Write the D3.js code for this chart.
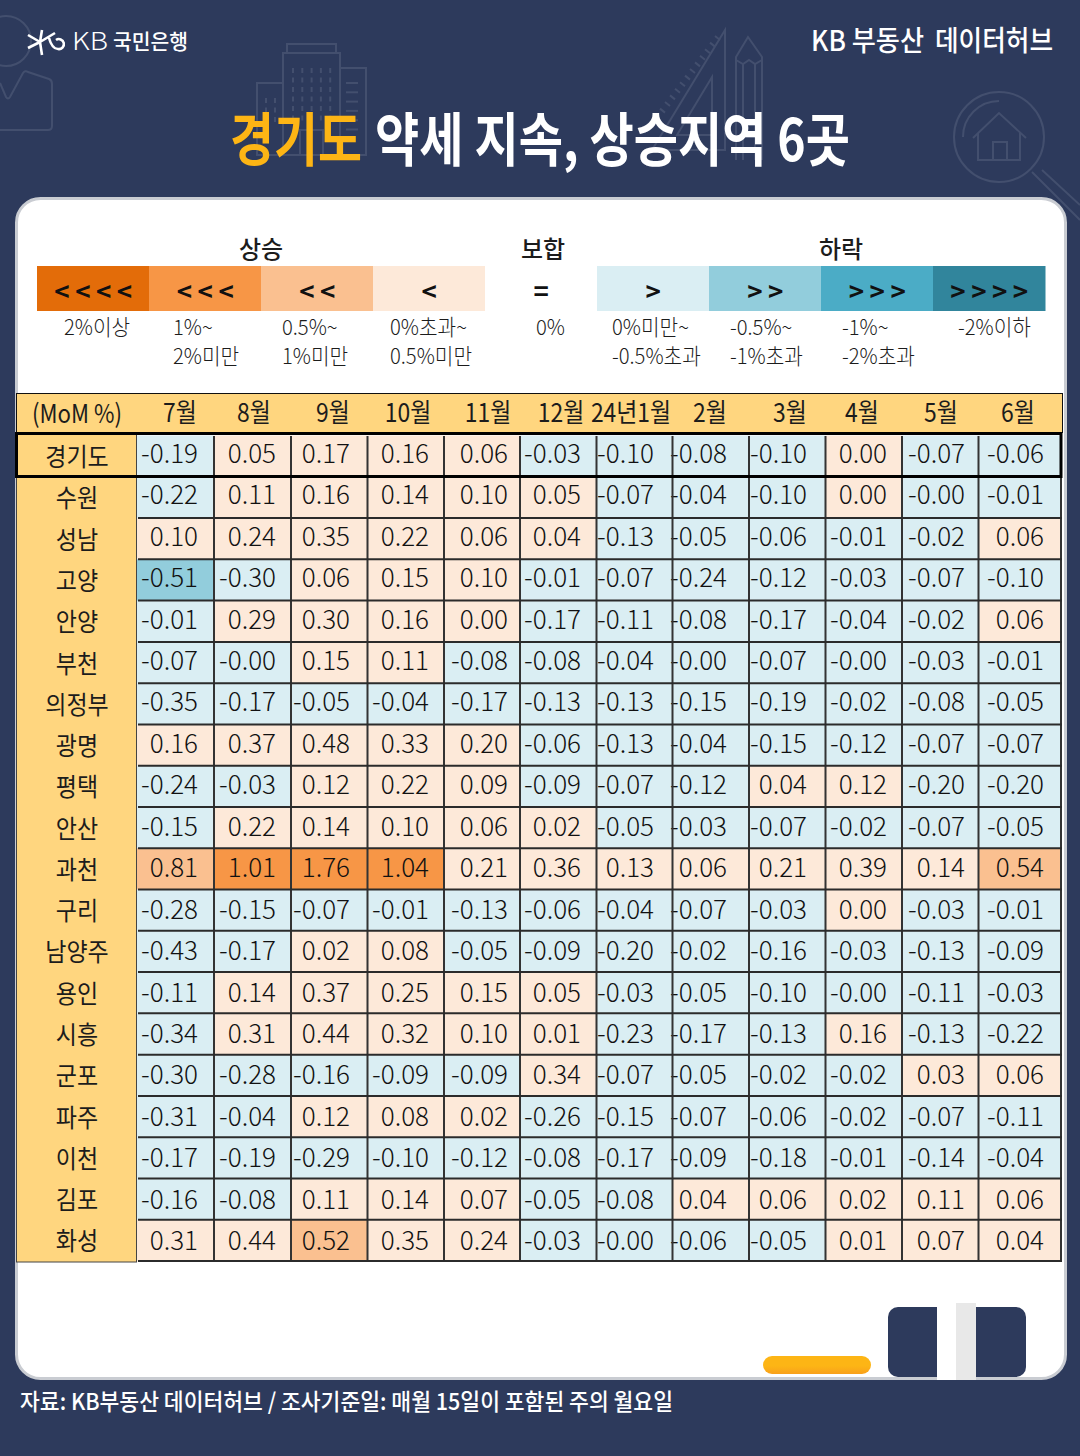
<!DOCTYPE html>
<html>
<head>
<meta charset="UTF-8">
<title>경기도 약세 지속, 상승지역 6곳</title>
<script src="https://d3js.org/d3.v7.min.js"></script>
<style>
  body { margin: 0; background: #2d3a5c; }
  svg { display: block; }
  text { font-family: "Noto Sans CJK KR", "Noto Sans", sans-serif; }
</style>
</head>
<body>
<script>
// data, kept as strings because "-0.00" and "0.00" are coloured differently
var months = ["7월", "8월", "9월", "10월", "11월", "12월", "24년1월", "2월", "3월", "4월", "5월", "6월"];
var regions = ["경기도", "수원", "성남", "고양", "안양", "부천", "의정부", "광명", "평택", "안산", "과천", "구리", "남양주", "용인", "시흥", "군포", "파주", "이천", "김포", "화성"];

var gyeonggi = ["-0.19", "0.05", "0.17", "0.16", "0.06", "-0.03", "-0.10", "-0.08", "-0.10", "0.00", "-0.07", "-0.06"];
var suwon = ["-0.22", "0.11", "0.16", "0.14", "0.10", "0.05", "-0.07", "-0.04", "-0.10", "0.00", "-0.00", "-0.01"];
var seongnam = ["0.10", "0.24", "0.35", "0.22", "0.06", "0.04", "-0.13", "-0.05", "-0.06", "-0.01", "-0.02", "0.06"];
var goyang = ["-0.51", "-0.30", "0.06", "0.15", "0.10", "-0.01", "-0.07", "-0.24", "-0.12", "-0.03", "-0.07", "-0.10"];
var anyang = ["-0.01", "0.29", "0.30", "0.16", "0.00", "-0.17", "-0.11", "-0.08", "-0.17", "-0.04", "-0.02", "0.06"];
var bucheon = ["-0.07", "-0.00", "0.15", "0.11", "-0.08", "-0.08", "-0.04", "-0.00", "-0.07", "-0.00", "-0.03", "-0.01"];
var uijeongbu = ["-0.35", "-0.17", "-0.05", "-0.04", "-0.17", "-0.13", "-0.13", "-0.15", "-0.19", "-0.02", "-0.08", "-0.05"];
var gwangmyeong = ["0.16", "0.37", "0.48", "0.33", "0.20", "-0.06", "-0.13", "-0.04", "-0.15", "-0.12", "-0.07", "-0.07"];
var pyeongtaek = ["-0.24", "-0.03", "0.12", "0.22", "0.09", "-0.09", "-0.07", "-0.12", "0.04", "0.12", "-0.20", "-0.20"];
var ansan = ["-0.15", "0.22", "0.14", "0.10", "0.06", "0.02", "-0.05", "-0.03", "-0.07", "-0.02", "-0.07", "-0.05"];
var gwacheon = ["0.81", "1.01", "1.76", "1.04", "0.21", "0.36", "0.13", "0.06", "0.21", "0.39", "0.14", "0.54"];
var guri = ["-0.28", "-0.15", "-0.07", "-0.01", "-0.13", "-0.06", "-0.04", "-0.07", "-0.03", "0.00", "-0.03", "-0.01"];
var namyangju = ["-0.43", "-0.17", "0.02", "0.08", "-0.05", "-0.09", "-0.20", "-0.02", "-0.16", "-0.03", "-0.13", "-0.09"];
var yongin = ["-0.11", "0.14", "0.37", "0.25", "0.15", "0.05", "-0.03", "-0.05", "-0.10", "-0.00", "-0.11", "-0.03"];
var siheung = ["-0.34", "0.31", "0.44", "0.32", "0.10", "0.01", "-0.23", "-0.17", "-0.13", "0.16", "-0.13", "-0.22"];
var gunpo = ["-0.30", "-0.28", "-0.16", "-0.09", "-0.09", "0.34", "-0.07", "-0.05", "-0.02", "-0.02", "0.03", "0.06"];
var paju = ["-0.31", "-0.04", "0.12", "0.08", "0.02", "-0.26", "-0.15", "-0.07", "-0.06", "-0.02", "-0.07", "-0.11"];
var icheon = ["-0.17", "-0.19", "-0.29", "-0.10", "-0.12", "-0.08", "-0.17", "-0.09", "-0.18", "-0.01", "-0.14", "-0.04"];
var gimpo = ["-0.16", "-0.08", "0.11", "0.14", "0.07", "-0.05", "-0.08", "0.04", "0.06", "0.02", "0.11", "0.06"];
var hwaseong = ["0.31", "0.44", "0.52", "0.35", "0.24", "-0.03", "-0.00", "-0.06", "-0.05", "0.01", "0.07", "0.04"];
var rows = [gyeonggi, suwon, seongnam, goyang, anyang, bucheon, uijeongbu, gwangmyeong, pyeongtaek, ansan, gwacheon, guri, namyangju, yongin, siheung, gunpo, paju, icheon, gimpo, hwaseong];

// legend
var legendSymbols = ["<<<<", "<<<", "<<", "<", "=", ">", ">>", ">>>", ">>>>"];
var legendColors = ["#e36c09", "#f79646", "#fac090", "#fde9d9", "#ffffff", "#daeef3", "#92cddc", "#4bacc6", "#31859c"];
var legendLine1 = ["2%이상", "1%~", "0.5%~", "0%초과~", "0%", "0%미만~", "-0.5%~", "-1%~", "-2%이하"];
var legendLine2 = ["", "2%미만", "1%미만", "0.5%미만", "", "-0.5%초과", "-1%초과", "-2%초과", ""];
var legendGroups = ["상승", "보합", "하락"];
var rateBreaks = [-2, -1, -0.5, 0, 0.5, 1, 2];
var rateColors = ["#31859c", "#4bacc6", "#92cddc", "#daeef3", "#fde9d9", "#fac090", "#f79646", "#e36c09"];

// layout of the table, the columns in the picture are not quite even
var colEdges = [137, 214, 291, 367.5, 444, 520, 596.5, 672.5, 749, 825.5, 902, 978.5];
var colEnds = [214, 291, 367.5, 444, 520, 596.5, 672.5, 749, 825.5, 902, 978.5, 1061];
var colTextEnd = [198, 276, 350, 429, 508, 581, 654, 727, 807, 887, 965, 1044];
var colHeadMid = [180, 254, 333, 408, 488, 561, 631, 710, 790, 862, 941, 1018];

var navy = "#2d3a5c", header = "#ffd67f", decor = "#434f6e", ink = "#1c1c1c";

var svg = d3.select("body").append("svg")
  .attr("width", 1080)
  .attr("height", 1456);

// the picture uses narrower glyphs than the installed font, squeeze a selection by factor k
function squeeze(sel, k) {
  sel.each(function () {
    var w = this.getComputedTextLength();
    if (w > 0) d3.select(this).attr("textLength", w * k).attr("lengthAdjust", "spacingAndGlyphs");
  });
}

svg.append("defs").append("linearGradient").attr("id", "pill").attr("x1", 0).attr("x2", 0).attr("y1", 0).attr("y2", 1)
  .selectAll("stop").data([["0", "#fdb515"], ["0.55", "#fdb515"], ["1", "#f9a01b"]]).enter().append("stop")
  .attr("offset", function (d) { return d[0]; })
  .attr("stop-color", function (d) { return d[1]; });

svg.append("rect").attr("width", 1080).attr("height", 1456).attr("fill", navy);

// faint line drawings behind the title
var bg = svg.append("g").attr("fill", "none").attr("stroke", decor).attr("stroke-width", 2);
bg.append("circle").attr("cx", 6).attr("cy", 41).attr("r", 25);
bg.append("path").attr("d", "M0,83 L6,97 Q8,100 10,97 L23,73 Q25,70 28,72 L49,79 Q52,80 52,84 V126 Q52,130 48,130 H0");
// building
bg.append("path").attr("d", "M287,53 V44 H336 V53 M283,155 V53 H340 V155 Z M340,68 H366 V155 H340 M283,83 H257 V155 H283 M300,155 V130 H323 V155");
bg.selectAll(".win").data(d3.range(5)).enter().append("line")
  .attr("class", "win")
  .attr("x1", function (d) { return 293 + d * 9.3; })
  .attr("x2", function (d) { return 293 + d * 9.3; })
  .attr("y1", 68).attr("y2", 125).attr("stroke-dasharray", "5 4.5");
bg.selectAll(".side").data(d3.range(6)).enter().append("line")
  .attr("class", "side")
  .attr("x1", 346).attr("x2", 358)
  .attr("y1", function (d) { return 83 + d * 9.3; })
  .attr("y2", function (d) { return 83 + d * 9.3; });
bg.append("path").attr("d", "M266,98 V125 M275,98 V125").attr("stroke-dasharray", "5 4.5");
// ruler and pencil
bg.append("path").attr("d", "M725,30 V150 H652 Z M712,77 V135 H677 Z");
bg.selectAll(".tick").data(d3.range(14)).enter().append("line")
  .attr("class", "tick")
  .attr("x1", function (d) { return 720 - d * 5; })
  .attr("x2", function (d) { return 715 - d * 5; })
  .attr("y1", function (d) { return 40 + d * 6.6; })
  .attr("y2", function (d) { return 36 + d * 6.6; });
bg.append("path").attr("d", "M736,160 V57 L748,37 L762,57 V160 M736,60 L743,64 L749,60 L755,64 L762,60 M743,64 V160 M755,64 V160");
// magnifier with the house
bg.append("circle").attr("cx", 999).attr("cy", 137).attr("r", 45);
bg.append("path").attr("d", "M963,137 A36,36 0 0 1 999,101");
bg.append("path").attr("d", "M973,138 L999,113 L1026,138 M978,133 V160 H1020 V133 M993,160 V142 H1007 V160 M1032,172 L1080,220 M1042,170 L1080,205");

// card
svg.append("rect").attr("x", 16.5).attr("y", 198.5).attr("width", 1049).attr("height", 1180)
  .attr("rx", 24).attr("fill", "#ffffff").attr("stroke", "#c9ccd2").attr("stroke-width", 3);

// logo and top texts
svg.append("path").attr("d", "M28,35 L40,42 M28,48 L40,42 M42,30 L40,42 M42,55 L40,42 M55,33 L40,42 M49,38 Q52,49 58,49 A5,5 0 1 0 56,40")
  .attr("fill", "none").attr("stroke", "#fff").attr("stroke-width", 2.6);
svg.append("text").attr("x", 72).attr("y", 50).attr("fill", "#fff").attr("font-size", 24).attr("font-weight", 300)
  .attr("textLength", 36).attr("lengthAdjust", "spacingAndGlyphs").text("KB");
svg.append("text").attr("x", 113).attr("y", 49).attr("fill", "#fff").attr("font-size", 21).attr("font-weight", 500)
  .attr("textLength", 75).attr("lengthAdjust", "spacingAndGlyphs").text("국민은행");
svg.append("text").attr("x", 811).attr("y", 51).attr("fill", "#fff").attr("font-size", 28).attr("font-weight", 500)
  .attr("textLength", 113).attr("lengthAdjust", "spacingAndGlyphs").text("KB 부동산");
svg.append("text").attr("x", 935).attr("y", 51).attr("fill", "#fff").attr("font-size", 28).attr("font-weight", 500)
  .attr("textLength", 118).attr("lengthAdjust", "spacingAndGlyphs").text("데이터허브");

svg.append("text").attr("x", 230).attr("y", 161).attr("fill", "#fdb515").attr("font-size", 58).attr("font-weight", 700)
  .attr("textLength", 132).attr("lengthAdjust", "spacingAndGlyphs").text("경기도");
svg.append("text").attr("x", 375).attr("y", 161).attr("fill", "#fff").attr("font-size", 58).attr("font-weight", 700)
  .attr("textLength", 475).attr("lengthAdjust", "spacingAndGlyphs").text("약세 지속, 상승지역 6곳");

// legend, band scale over the nine boxes
var legendX = d3.scaleBand().domain(d3.range(legendSymbols.length)).range([37, 1045]);
var legendMid = function (i) { return legendX(i) + legendX.bandwidth() / 2; };

svg.selectAll(".lg-box").data(legendSymbols).enter().append("rect")
  .attr("class", "lg-box")
  .attr("x", function (d, i) { return legendX(i); })
  .attr("y", 266).attr("height", 45)
  .attr("width", legendX.bandwidth() + 0.5)
  .attr("fill", function (d, i) { return legendColors[i]; });

svg.selectAll(".lg-sym").data(legendSymbols).enter().append("text")
  .attr("class", "lg-sym")
  .attr("x", function (d, i) { return legendMid(i) + 3; })
  .attr("y", 301).attr("text-anchor", "middle")
  .attr("font-size", 26).attr("font-weight", 700).attr("fill", "#111")
  .attr("letter-spacing", 5.5)
  .text(function (d) { return d; });

// the groups sit over boxes 0-3, box 4 and boxes 5-8
var legendGroupMid = [legendX(2), legendMid(4) + 2, legendX(7) + 20];
svg.selectAll(".lg-group").data(legendGroups).enter().append("text")
  .attr("class", "lg-group")
  .attr("x", function (d, i) { return legendGroupMid[i]; })
  .attr("y", 258).attr("text-anchor", "middle")
  .attr("font-size", 24).attr("font-weight", 500).attr("fill", ink)
  .text(function (d) { return d; });

// labels under the legend, left edges from the picture
var legendTextX = [64, 173, 282, 390, 536, 612, 730, 842, 958];
svg.selectAll(".lg-l1").data(legendLine1).enter().append("text")
  .attr("class", "lg-l1")
  .attr("x", function (d, i) { return legendTextX[i]; })
  .attr("y", 335).attr("font-size", 21.5).attr("fill", ink).attr("font-weight", 300)
  .text(function (d) { return d; })
  .call(squeeze, 0.94);
svg.selectAll(".lg-l2").data(legendLine2).enter().append("text")
  .attr("class", "lg-l2")
  .attr("x", function (d, i) { return legendTextX[i]; })
  .attr("y", 364).attr("font-size", 21.5).attr("fill", ink).attr("font-weight", 300)
  .text(function (d) { return d; })
  .call(squeeze, 0.94);

// table scales
var colX = d3.scaleOrdinal().domain(months).range(colEdges);
var colEnd = d3.scaleOrdinal().domain(months).range(colEnds);
var colText = d3.scaleOrdinal().domain(months).range(colTextEnd);
var colHead = d3.scaleOrdinal().domain(months).range(colHeadMid);
var rowY = d3.scaleBand().domain(regions).range([435.5, 1261]);
// numbers drift a little against the grid in the picture so they have their own scale
var valueY = d3.scaleBand().domain(regions).range([433, 1262]);
var rateColor = d3.scaleThreshold().domain(rateBreaks).range(rateColors);

// "-0.00" has to land in the blue class, "0.00" in the peach one
function cellColor(s) {
  return rateColor(s.charAt(0) == "-" && +s == 0 ? -0.001 : +s + (+s == 0 ? 0.001 : 0));
}

// header band and region column
svg.append("rect").attr("x", 16.5).attr("y", 393.5).attr("width", 1046).attr("height", 39)
  .attr("fill", header).attr("stroke", "#111").attr("stroke-width", 1);
svg.append("rect").attr("x", 16.5).attr("y", 433).attr("width", 120).attr("height", 829)
  .attr("fill", header).attr("stroke", "#444").attr("stroke-width", 1);

svg.append("text").attr("x", 32).attr("y", 423).attr("font-size", 26).attr("fill", ink)
  .attr("textLength", 90).attr("lengthAdjust", "spacingAndGlyphs").text("(MoM %)");

svg.selectAll(".head").data(months).enter().append("text")
  .attr("class", "head")
  .attr("x", function (d) { return colHead(d); })
  .attr("y", 422).attr("text-anchor", "middle")
  .attr("font-size", 26).attr("fill", ink)
  .text(function (d) { return d; })
  .call(squeeze, 0.88);

// cell fills first, the grid lines go over them
var rowG = svg.selectAll(".row").data(regions).enter().append("g")
  .attr("class", "row");

rowG.selectAll(".cell")
  .data(function (d, i) {
    return rows[i].map(function (v, j) { return { region: d, month: months[j], value: v }; });
  })
  .enter().append("rect")
  .attr("class", "cell")
  .attr("x", function (d) { return colX(d.month); })
  .attr("y", function (d) { return rowY(d.region); })
  .attr("width", function (d) { return colEnd(d.month) - colX(d.month) + 0.5; })
  .attr("height", rowY.bandwidth() + 0.5)
  .attr("fill", function (d) { return cellColor(d.value); });

svg.selectAll(".vline").data(months).enter().append("line")
  .attr("class", "vline")
  .attr("x1", function (d) { return colEnd(d); })
  .attr("x2", function (d) { return colEnd(d); })
  .attr("y1", 436).attr("y2", 1261)
  .attr("stroke", "#333").attr("stroke-width", 2);

svg.selectAll(".hline").data(regions).enter().append("line")
  .attr("class", "hline")
  .attr("x1", 138).attr("x2", 1062)
  .attr("y1", function (d) { return rowY(d) + rowY.bandwidth(); })
  .attr("y2", function (d) { return rowY(d) + rowY.bandwidth(); })
  .attr("stroke", "#2b2b2b").attr("stroke-width", 2);

// numbers
rowG.selectAll(".val")
  .data(function (d, i) {
    return rows[i].map(function (v, j) { return { region: d, month: months[j], value: v }; });
  })
  .enter().append("text")
  .attr("class", "val")
  .attr("x", function (d) { return colText(d.month); })
  .attr("y", function (d) { return valueY(d.region) + valueY.bandwidth() / 2 + 9; })
  .attr("text-anchor", "end")
  .attr("font-size", 26).attr("font-weight", 300).attr("fill", "#111")
  .text(function (d) { return d.value; });

rowG.append("text")
  .attr("class", "name")
  .attr("x", 77)
  .attr("y", function (d) { return rowY(d) + rowY.bandwidth() / 2 + 10; })
  .attr("text-anchor", "middle")
  .attr("font-size", 25).attr("fill", ink)
  .text(function (d) { return d; })
  .call(squeeze, 0.92);

// black frame around the first row
svg.append("rect").attr("x", 16.5).attr("y", 433.5).attr("width", 1044.5).attr("height", 43)
  .attr("fill", "none").attr("stroke", "#000").attr("stroke-width", 3);

// bottom decoration
svg.append("rect").attr("x", 763).attr("y", 1356).attr("width", 108).attr("height", 18).attr("rx", 9).attr("fill", "url(#pill)");
svg.append("rect").attr("x", 888).attr("y", 1307).attr("width", 138).attr("height", 70).attr("rx", 10).attr("fill", navy);
svg.append("rect").attr("x", 937).attr("y", 1303).attr("width", 19).attr("height", 77).attr("fill", "#ffffff");
svg.append("rect").attr("x", 956).attr("y", 1303).attr("width", 20).attr("height", 77).attr("fill", "#e8e8e8");

// source line
svg.append("text").attr("x", 20).attr("y", 1410).attr("fill", "#fff").attr("font-size", 23).attr("font-weight", 500)
  .attr("textLength", 653).attr("lengthAdjust", "spacingAndGlyphs")
  .text("자료: KB부동산 데이터허브 / 조사기준일: 매월 15일이 포함된 주의 월요일");
</script>
</body>
</html>
